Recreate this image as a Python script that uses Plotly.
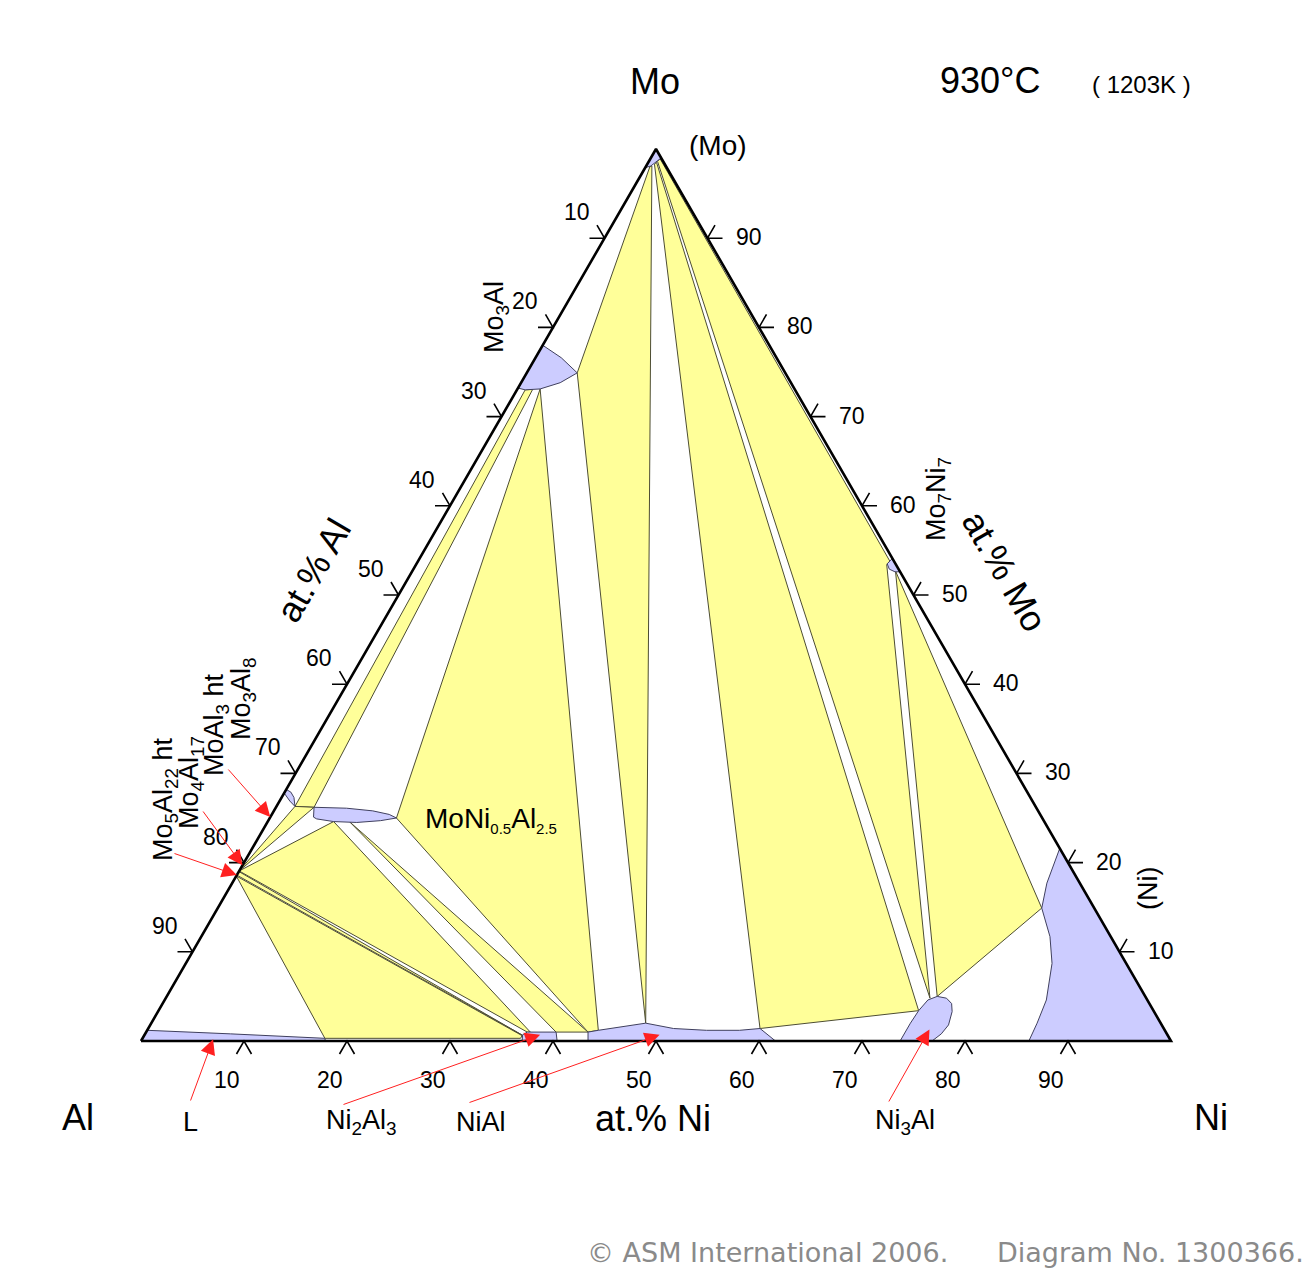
import math
import plotly.graph_objects as go

# ---------------- data: compositions as (at.% Ni, at.% Mo); at.% Al = 100 - Ni - Mo ----------------
# single-phase fields
mo_ss = [(0, 100), (0, 97.9), (0.45, 98.1), (0.75, 98.5), (1.0, 99.0)]
mo3al = [(0, 78.0), (2.5, 76.6), (4.9, 74.9), (3.8, 73.8), (2.2, 73.1), (0.8, 73.0), (0, 73.2)]
mo3al8 = [(0, 28.2), (0.6, 27.9), (1.2, 27.3), (1.8, 26.3), (1.0, 26.9), (0.3, 27.5), (0, 27.8)]
mo7ni7 = [(45.9, 54.1), (45.7, 53.5), (46.2, 52.9), (46.9, 52.6), (47.4, 52.6)]
tau = [(3.7, 26.2), (6.9, 26.1), (9.6, 25.8), (11.4, 25.4), (12.3, 25.0), (10.9, 24.7),
       (8.7, 24.5), (6.4, 24.6), (4.6, 24.9), (4.2, 25.1)]
ni_ss = [(78.4, 21.6), (79.1, 17.7), (80.0, 14.9), (82.4, 11.7), (84.1, 8.7), (85.6, 4.6),
         (86.0, 2.0), (86.2, 0), (100, 0)]
ni3al = [(73.7, 0), (73.7, 2.0), (73.8, 3.4), (74.1, 4.6), (74.8, 5.0), (75.8, 4.8), (76.6, 4.2),
         (77.1, 3.3), (77.5, 1.8), (77.3, 0.8), (76.8, 0)]
nial = [(43.4, 0), (42.9, 1.0), (43.8, 1.2), (45.4, 1.5), (48.0, 2.0), (51.0, 1.4), (54.3, 1.2),
        (57.5, 1.2), (59.4, 1.4), (61.6, 0)]
ni2al3 = [(37.0, 0), (36.7, 0.7), (37.0, 1.0), (39.8, 1.0), (40.4, 0)]
liquid = [(0, 0), (0, 1.2), (8.3, 0.8), (17.7, 0.3), (17.9, 0)]

# three-phase fields
tri_mo_mo3al_nial = [(0.4, 98.0), (4.9, 74.9), (48.0, 2.0), (0.55, 98.1)]
tri_mo_nial_ni3al = [(0.7, 98.3), (59.4, 1.4), (73.8, 3.4), (0.8, 98.5)]
tri_mo_mo7ni7_ni3al = [(0.85, 98.6), (74.2, 4.8), (45.7, 53.4), (45.8, 53.8), (0.95, 98.9)]
tri_mo7ni7_ni3al_ni = [(46.9, 52.7), (74.8, 5.0), (80.0, 14.9)]
tri_mo3al_tau_nial = [(2.2, 73.1), (12.3, 25.0), (42.9, 1.0), (43.8, 1.2)]
tri_mo3al_mo3al8_tau = [(0.8, 73.0), (1.8, 26.3), (3.7, 26.2), (1.5, 73.05)]
tri_l_mo5al22_ni2al3 = [(0, 18.5), (17.7, 0.3), (36.7, 0.3), (36.7, 0.6)]
tri_mo5al22_mo4al17_ni2al3 = [(0, 18.6), (36.7, 0.65), (0, 19.0)]
tri_mo4al17_tau_ni2al3 = [(0, 19.06), (6.4, 24.6), (37.3, 1.0), (37.0, 1.0)]
tri_tau_ni2al3_nial = [(8.0, 24.55), (39.8, 1.0), (42.9, 1.0)]
tri_mo4al17_mo3al8_tau = [(0, 19.06), (1.8, 26.3), (3.7, 26.2)]

three_phase = [tri_mo_mo3al_nial, tri_mo_nial_ni3al, tri_mo_mo7ni7_ni3al, tri_mo7ni7_ni3al_ni,
               tri_mo3al_tau_nial, tri_mo3al_mo3al8_tau, tri_l_mo5al22_ni2al3,
               tri_mo5al22_mo4al17_ni2al3, tri_mo4al17_tau_ni2al3, tri_tau_ni2al3_nial,
               tri_mo4al17_mo3al8_tau]
single_phase = [mo_ss, mo3al, mo3al8, mo7ni7, tau, ni_ss, ni3al, nial, ni2al3, liquid]

tick_values = [10, 20, 30, 40, 50, 60, 70, 80, 90]
tick_labels = ["10", "20", "30", "40", "50", "60", "70", "80", "90"]

# phase labels with arrows: (text, (Ni, Mo) target)
arrow_labels = [
    ("L", (6.9, 0.2)),
    ("Ni<sub>2</sub>Al<sub>3</sub>", (38.4, 0.7)),
    ("NiAl", (50.0, 0.7)),
    ("Ni<sub>3</sub>Al", (75.9, 1.3)),
    ("Mo<sub>5</sub>Al<sub>22</sub> ht", (0.0, 18.6)),
    ("Mo<sub>4</sub>Al<sub>17</sub>", (0.0, 19.7)),
    ("MoAl<sub>3</sub> ht", (0.0, 25.1)),
]

# ---------------- geometry / layout ----------------
S3 = math.sqrt(3) / 2
PX = 10.3                   # pixels per at.% along an edge
M = 8                       # page body margin in the browser
W, H = 1312 - M, 1276 - M   # figure size
AX, AY = 141, 1041          # page pixel position of the Al corner
X0, Y0 = AX - M, AY - M     # same in figure pixels


def to_xy(pts):
    xs = [ni + mo / 2 for ni, mo in pts]
    ys = [mo * S3 for ni, mo in pts]
    return xs, ys


FONT = "Liberation Sans, Arial, sans-serif"
fig = go.Figure()


def add_poly(pts, fill, lc, lw=1.0):
    xs, ys = to_xy(list(pts) + [pts[0]])
    fig.add_trace(go.Scatter(x=xs, y=ys, mode="lines", fill="toself", fillcolor=fill,
                             line=dict(color=lc, width=lw), hoverinfo="skip", showlegend=False))


for p in three_phase:
    add_poly(p, "#FFFF99", "#4d4d33")
for p in single_phase:
    add_poly(p, "#CCCCFF", "#40405e")

# triangle frame
fx, fy = to_xy([(0, 0), (100, 0), (0, 100), (0, 0)])
fig.add_trace(go.Scatter(x=fx, y=fy, mode="lines", line=dict(color="black", width=2.6),
                         hoverinfo="skip", showlegend=False))

# tick marks
L = 15 / PX
tx, ty = [], []
for v in tick_values:
    x, y = to_xy([(v, 0)])
    x, y = x[0], y[0]
    tx += [x - L / 2, x, x + L / 2, None]
    ty += [y - L * S3, y, y - L * S3, None]
    x, y = to_xy([(0, 100 - v)])
    x, y = x[0], y[0]
    tx += [x - L, x, x - L / 2, None]
    ty += [y, y, y + L * S3, None]
    x, y = to_xy([(100 - v, v)])
    x, y = x[0], y[0]
    tx += [x + L, x, x + L / 2, None]
    ty += [y, y, y + L * S3, None]
fig.add_trace(go.Scatter(x=tx, y=ty, mode="lines", line=dict(color="black", width=1.6),
                         hoverinfo="skip", showlegend=False))

annotations = []


def label(text, px, py, size, angle=0, color="black", family=FONT, xanchor="center"):
    # px, py: page pixel position of the text
    annotations.append(dict(text=text, x=(px - M) / W, y=1 - (py - M) / H, xref="paper",
                            yref="paper", showarrow=False, xanchor=xanchor, yanchor="middle",
                            textangle=angle, font=dict(size=size, color=color, family=family)))


# tick labels (offset from tick position in pixels)
for v, t in zip(tick_values, tick_labels):
    x, y = to_xy([(v, 0)])
    annotations.append(dict(text=t, x=x[0] - 17 / PX, y=y[0] - 39 / PX, xref="x", yref="y",
                            showarrow=False, font=dict(size=23, family=FONT, color="black")))
    x, y = to_xy([(0, 100 - v)])
    annotations.append(dict(text=t, x=x[0] - 28 / PX, y=y[0] + 26 / PX, xref="x", yref="y",
                            showarrow=False, font=dict(size=23, family=FONT, color="black")))
    x, y = to_xy([(100 - v, v)])
    annotations.append(dict(text=t, x=x[0] + 41 / PX, y=y[0] + 1 / PX, xref="x", yref="y",
                            showarrow=False, font=dict(size=23, family=FONT, color="black")))

# titles / corner labels
label("Mo", 655, 82, 36)
label("930°C", 990, 81, 36)
label("( 1203K )", 1141, 85, 24)
label("(Mo)", 718, 145, 28)
label("Al", 78, 1117, 36)
label("Ni", 1211, 1117, 36)
label("at.% Ni", 653, 1118, 36)
label("at.% Al", 313, 570, 36, angle=-60)
label("at.% Mo", 1005, 571, 36, angle=60)
label("Mo<sub>3</sub>Al", 496, 317, 27, angle=-90)
label("Mo<sub>7</sub>Ni<sub>7</sub>", 938, 499, 27, angle=-90)
label("(Ni)", 1148, 889, 27, angle=-90)
label('MoNi<sub><span style="font-size:15px">0.5</span></sub>'
      'Al<sub><span style="font-size:15px">2.5</span></sub>', 491, 820, 28)
label("Mo<sub>3</sub>Al<sub>8</sub>", 243, 698, 27, angle=-90)

# arrow labels: text position (page px) and arrow tail (page px)
arrow_text_pos = [(190, 1122), (361, 1122), (481, 1122), (905, 1122),
                  (165, 799), (191, 783), (216, 725)]
arrow_tail = [(190, 1102), (342, 1105), (468, 1103), (888, 1103),
              (173, 853), (202, 810), (227, 768)]
for (txt, comp), (lx, ly), (tx_, ty_) in zip(arrow_labels, arrow_text_pos, arrow_tail):
    vertical = "Mo" in txt
    label(txt, lx, ly, 27, angle=-90 if vertical else 0)
    hx, hy = to_xy([comp])
    hx, hy = hx[0], hy[0]
    hpx = AX + hx * PX
    hpy = AY - hy * PX
    annotations.append(dict(x=hx, y=hy, xref="x", yref="y", text="", showarrow=True,
                            ax=tx_ - hpx, ay=ty_ - hpy, arrowhead=2, arrowsize=3,
                            arrowwidth=1, arrowcolor="#ff2020", standoff=0))

# copyright line
label("© ASM International 2006.", 585, 1252, 27, color="#8a8a8a",
      family="DejaVu Sans, Verdana, sans-serif", xanchor="left")
label("Diagram No. 1300366.", 995, 1252, 27, color="#8a8a8a",
      family="DejaVu Sans, Verdana, sans-serif", xanchor="left")

fig.update_layout(
    width=W, height=H, margin=dict(l=0, r=0, t=0, b=0),
    paper_bgcolor="white", plot_bgcolor="white",
    xaxis=dict(range=[-X0 / PX, (W - X0) / PX], visible=False, fixedrange=True),
    yaxis=dict(range=[-(H - Y0) / PX, Y0 / PX], visible=False, fixedrange=True),
    annotations=annotations,
    showlegend=False,
)

fig.write_html("out.html")
